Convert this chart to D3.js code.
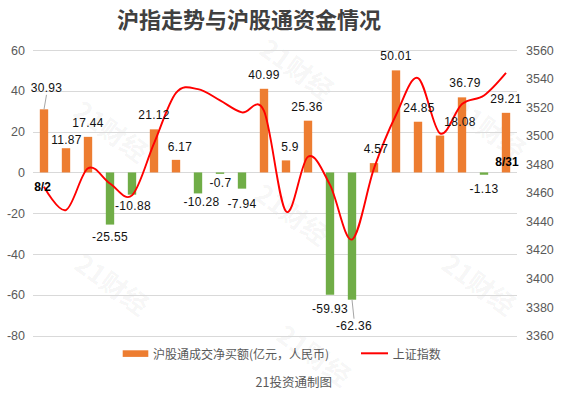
<!DOCTYPE html>
<html><head><meta charset="utf-8">
<script src="https://cdn.jsdelivr.net/npm/d3@7"></script>
<style>
html,body{margin:0;padding:0;background:#fff;}
svg{display:block;font-family:"Liberation Sans","Noto Sans CJK SC",sans-serif;}
</style></head>
<body><svg id="c" width="567" height="393"></svg>
<script>
const dates = ["8/2","8/3","8/4","8/5","8/6","8/9","8/10","8/11","8/12","8/13","8/16","8/17","8/18","8/19","8/20","8/23","8/24","8/25","8/26","8/27","8/30","8/31"];
const netBuy = [30.93, 11.87, 17.44, -25.55, -10.88, 21.12, 6.17, -10.28, -0.7, -7.94, 40.99, 5.9, 25.36, -59.93, -62.36, 4.57, 50.01, 24.85, 18.08, 36.79, -1.13, 29.21];
const sse = [3464.29, 3447.99, 3477.22, 3466.56, 3458.23, 3494.63, 3529.93, 3532.62, 3524.74, 3516.30, 3517.34, 3446.98, 3485.29, 3465.55, 3427.33, 3477.13, 3514.47, 3540.38, 3501.66, 3522.16, 3528.15, 3543.94];
const leftTicks = [60, 40, 20, 0, -20, -40, -60, -80];
const rightTicks = [3560, 3540, 3520, 3500, 3480, 3460, 3440, 3420, 3400, 3380, 3360];
const title = "沪指走势与沪股通资金情况";
const legendBar = "沪股通成交净买额(亿元，人民币)";
const legendLine = "上证指数";
const footer = "21投资通制图";
const watermark = "21财经";

// label nudges (dx, dy) relative to default placement
const labelNudge = [[2.5,-7.5],[0.5,6],[0,0],[0,-1.5],[1,-3],[0,0],[4,1],[3.5,-5],[0.5,-5],[0,1],[0,0],[4,1],[-1,0],[0,0],[2,12],[2,0],[0,0],[1,0],[20,0],[3,0],[0,0],[0,0]];

const svg = d3.select("#c");
const X0 = 33, X1 = 517, YT = 50, YB = 335.7;
const orange = "#ED7D31", green = "#70AD47", red = "#FF0000";

const x = d3.scaleBand().domain(dates).range([X0, X1]).paddingInner(0.62).paddingOuter(0.31);
const yL = d3.scaleLinear().domain([-80, 60]).range([YB, YT]);
const yR = d3.scaleLinear().domain([3360, 3560]).range([YB, YT]);

// watermarks
const wm = [[298,68],[112,130],[490,128],[293,213],[113,283],[480,283],[315,354]];
svg.append("g").selectAll("text").data(wm).join("text")
  .attr("transform", d => `translate(${d[0]},${d[1]}) rotate(36)`)
  .attr("text-anchor","middle").attr("dominant-baseline","central")
  .attr("font-size", 26).attr("font-weight","bold")
  .attr("fill","#000").attr("fill-opacity",0.055)
  .attr("font-family","Noto Sans CJK SC")
  .text(watermark);

// title
svg.append("text").attr("x", 249).attr("y", 28).attr("text-anchor","middle")
  .attr("font-size", 22).attr("font-weight","bold").attr("fill","#404040")
  .attr("font-family","Noto Sans CJK SC").text(title);

// gridlines
svg.append("g").selectAll("line").data(leftTicks).join("line")
  .attr("x1", X0).attr("x2", X1)
  .attr("y1", d => Math.round(yL(d)) + 0.5).attr("y2", d => Math.round(yL(d)) + 0.5)
  .attr("stroke", "#d9d9d9").attr("stroke-width", 1);

// axes
const axL = svg.append("g").attr("transform", `translate(${X0},0)`)
  .call(d3.axisLeft(yL).tickValues(leftTicks).tickSize(0).tickPadding(8).tickFormat(d => String(d)));
const axR = svg.append("g").attr("transform", `translate(${X1},0)`)
  .call(d3.axisRight(yR).tickValues(rightTicks).tickSize(0).tickPadding(9).tickFormat(d => String(d)));
[axL, axR].forEach(a => {
  a.select(".domain").remove();
  a.selectAll("text").attr("font-size", 12.5).attr("fill", "#595959")
    .attr("font-family","Liberation Sans");
});

// bars
const z = yL(0);
svg.append("g").selectAll("rect").data(netBuy).join("rect")
  .attr("x", (d, i) => x(dates[i]))
  .attr("width", x.bandwidth())
  .attr("y", d => d >= 0 ? yL(d) : z)
  .attr("height", d => Math.abs(yL(d) - z))
  .attr("fill", d => d >= 0 ? orange : green);

// line
const line = d3.line()
  .x((d, i) => x(dates[i]) + x.bandwidth() / 2)
  .y(d => yR(d))
  .curve(d3.curveCatmullRom.alpha(0));
svg.append("path").datum(sse).attr("d", line)
  .attr("fill", "none").attr("stroke", red).attr("stroke-width", 1.9);

// value labels
const lblPos = netBuy.map((d, i) => {
  const cx = x(dates[i]) + x.bandwidth() / 2;
  const cy = d >= 0 ? yL(d) - 14 : yL(d) + 14;
  return [cx + labelNudge[i][0], cy + labelNudge[i][1]];
});
// leader lines for moved labels
const leaders = [0, 14];
svg.append("g").selectAll("line").data(leaders).join("line")
  .attr("x1", i => x(dates[i]) + x.bandwidth() / 2)
  .attr("y1", i => yL(netBuy[i]))
  .attr("x2", i => lblPos[i][0])
  .attr("y2", i => netBuy[i] >= 0 ? lblPos[i][1] + 7 : lblPos[i][1] - 7)
  .attr("stroke", "#a6a6a6").attr("stroke-width", 1);

svg.append("g").selectAll("text").data(netBuy).join("text")
  .attr("x", (d, i) => lblPos[i][0])
  .attr("y", (d, i) => lblPos[i][1])
  .attr("text-anchor", "middle").attr("dominant-baseline", "central")
  .attr("font-size", 12).attr("fill", "#111").attr("letter-spacing", 0.3)
  .text(d => String(d));

// first / last date labels
svg.append("text").attr("x", x(dates[0]) + x.bandwidth()/2 - 1.5).attr("y", z + 15)
  .attr("text-anchor","middle").attr("dominant-baseline","central")
  .attr("font-size", 12).attr("font-weight","bold").attr("fill","#000").text(dates[0]);
svg.append("text").attr("x", x(dates[dates.length-1]) + x.bandwidth()/2 + 1).attr("y", z - 10.5)
  .attr("text-anchor","middle").attr("dominant-baseline","central")
  .attr("font-size", 12).attr("font-weight","bold").attr("fill","#000").text(dates[dates.length-1]);

// legend
const lg = svg.append("g").attr("font-family","Noto Sans CJK SC").attr("font-size", 12).attr("fill","#595959");
lg.append("rect").attr("x", 122.7).attr("y", 350.3).attr("width", 25.6).attr("height", 6.6).attr("fill", orange);
lg.append("text").attr("x", 153).attr("y", 353.5).attr("dominant-baseline","central").text(legendBar);
lg.append("line").attr("x1", 361).attr("x2", 388).attr("y1", 353.3).attr("y2", 353.3)
  .attr("stroke", red).attr("stroke-width", 2);
lg.append("text").attr("x", 392.7).attr("y", 353.5).attr("dominant-baseline","central").text(legendLine);

// footer
svg.append("text").attr("x", 293.7).attr("y", 381.7).attr("text-anchor","middle")
  .attr("dominant-baseline","central").attr("font-size", 12.5).attr("fill","#595959")
  .attr("font-family","Noto Sans CJK SC").text(footer);
</script></body></html>
